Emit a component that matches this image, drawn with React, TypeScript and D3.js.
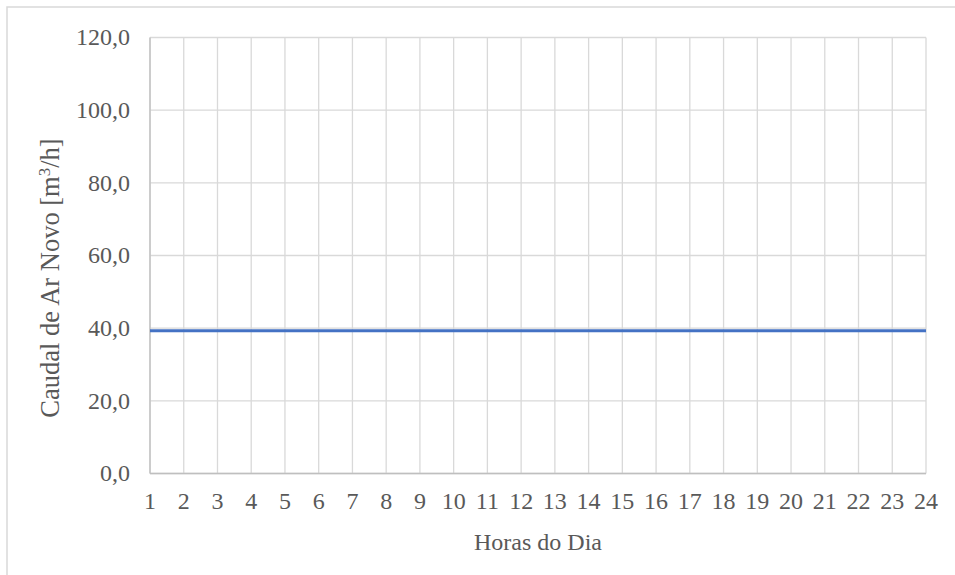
import React from "react";
import * as d3 from "d3";

const hours: number[] = Array.from({ length: 24 }, (_, i) => i + 1);
const flow: number[] = [
  39.3, 39.3, 39.3, 39.3, 39.3, 39.3, 39.3, 39.3, 39.3, 39.3, 39.3, 39.3,
  39.3, 39.3, 39.3, 39.3, 39.3, 39.3, 39.3, 39.3, 39.3, 39.3, 39.3, 39.3,
];
const yTicks: number[] = [0, 20, 40, 60, 80, 100, 120];
const xTitle = "Horas do Dia";

const W = 955;
const H = 575;
const left = 150;
const right = 926;
const top = 37.5;
const bottom = 473.5;
const FONT = "'Liberation Serif', 'Times New Roman', serif";
const TXT = "#595959";

export default function App() {
  const x = d3.scaleLinear().domain([1, 24]).range([left, right]);
  const y = d3.scaleLinear().domain([0, 120]).range([bottom, top]);
  const line = d3
    .line<number>()
    .x((_, i) => x(hours[i]))
    .y((d) => y(d));
  const fmt = (v: number) => v.toFixed(1).replace(".", ",");

  return (
    <svg
      width={W}
      height={H}
      style={{ position: "absolute", left: 0, top: 0, background: "#fff" }}
    >
      <rect x={7} y={7} width={W + 20} height={H + 20} fill="#fff" stroke="#d9d9d9" strokeWidth={1.5} />
      {yTicks.map((t) => (
        <line key={"h" + t} x1={left} x2={right} y1={y(t)} y2={y(t)} stroke="#d9d9d9" strokeWidth={1.3} />
      ))}
      {hours.map((h) => (
        <line key={"v" + h} x1={x(h)} x2={x(h)} y1={top} y2={bottom} stroke="#d9d9d9" strokeWidth={1.3} />
      ))}
      <line x1={left} x2={left} y1={top} y2={bottom} stroke="#bfbfbf" strokeWidth={1.3} />
      <line x1={left} x2={right} y1={bottom} y2={bottom} stroke="#bfbfbf" strokeWidth={1.3} />
      <path d={line(flow) || ""} fill="none" stroke="#4472c4" strokeWidth={3} />
      {yTicks.map((t) => (
        <text
          key={"yl" + t}
          x={130}
          y={y(t)}
          dy="0.33em"
          textAnchor="end"
          fontFamily={FONT}
          fontSize={24}
          fill={TXT}
        >
          {fmt(t)}
        </text>
      ))}
      {hours.map((h) => (
        <text
          key={"xl" + h}
          x={x(h)}
          y={509}
          textAnchor="middle"
          fontFamily={FONT}
          fontSize={24}
          fill={TXT}
        >
          {h}
        </text>
      ))}
      <text x={(left + right) / 2} y={550} textAnchor="middle" fontFamily={FONT} fontSize={24} fill={TXT}>
        {xTitle}
      </text>
      <text
        transform={`translate(59,278) rotate(-90)`}
        textAnchor="middle"
        fontFamily={FONT}
        fontSize={26.5}
        fill={TXT}
      >
        Caudal de Ar Novo [m<tspan dy="-9" fontSize={17}>3</tspan><tspan dy="9">/h]</tspan>
      </text>
    </svg>
  );
}
